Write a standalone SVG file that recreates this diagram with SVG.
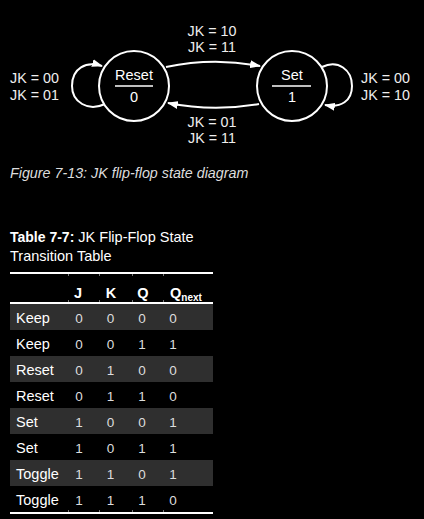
<svg xmlns="http://www.w3.org/2000/svg" width="424" height="519" viewBox="0 0 424 519">
<style>
text{font-family:"Liberation Sans",Arial,sans-serif;}
.lbl{font-size:14.3px;fill:#eeeeee;}
.st{font-size:14.5px;fill:#ffffff;text-anchor:middle;}
.node{fill:#000;stroke:#fff;stroke-width:2;}
.conn{fill:none;stroke:#fff;stroke-width:2;marker-end:url(#ah);}
.cell{font-size:14.5px;fill:#ffffff;}
.num{font-size:13.5px;fill:#dddddd;text-anchor:middle;}
.hd{font-size:14.5px;font-weight:bold;fill:#ffffff;text-anchor:middle;}
.dark{fill:#2f2f2f;}
.rule{stroke:#fff;stroke-width:2;}
.tick{stroke:#777;stroke-width:1;}
</style>
<defs>
<marker id="ah" markerUnits="userSpaceOnUse" markerWidth="11" markerHeight="8" refX="10" refY="4" orient="auto">
<path d="M0,0 L11,4 L0,8 z" fill="#fff"/>
</marker>
</defs>
<rect x="0" y="0" width="424" height="519" fill="#000"/>

<g id="connectors">
<path class="conn" d="M166,67 Q213,57 260,66"/>
<path class="conn" d="M259,104 Q213,112 168,103"/>
<path class="conn" d="M105,104 C88,112 72,102 72,86 C72,68 86,61 102,66"/>
<path class="conn" d="M322,67 C338,59 352,70 352,86 C352,101 341,108 325,105"/>
<g id="edge-labels">
<text class="lbl" x="212" y="36" text-anchor="middle">JK = 10</text>
<text class="lbl" x="212" y="52" text-anchor="middle">JK = 11</text>
<text class="lbl" x="212" y="127" text-anchor="middle">JK = 01</text>
<text class="lbl" x="212" y="143" text-anchor="middle">JK = 11</text>
<text class="lbl" x="10" y="83">JK = 00</text>
<text class="lbl" x="10" y="100">JK = 01</text>
<text class="lbl" x="361" y="83">JK = 00</text>
<text class="lbl" x="361" y="100">JK = 10</text>
</g>
</g>

<g id="reset">
<circle class="node" cx="134" cy="86" r="35"/>
<text class="st" x="134" y="80">Reset</text>
<line x1="115" y1="86" x2="153" y2="86" stroke="#fff" stroke-width="1.5"/>
<text class="st" x="134" y="102">0</text>
</g>
<g id="set">
<circle class="node" cx="292" cy="86" r="35"/>
<text class="st" x="292" y="80">Set</text>
<line x1="272" y1="86" x2="311" y2="86" stroke="#fff" stroke-width="1.5"/>
<text class="st" x="292" y="102">1</text>
</g>

<text x="10" y="178" font-size="14.3" font-style="italic" fill="#dddddd">Figure 7-13: JK flip-flop state diagram</text>

<g id="table">
<text x="10" y="242" font-size="14.5" fill="#fff"><tspan font-weight="bold" font-size="14">Table 7-7:</tspan> JK Flip-Flop State</text>
<text x="10" y="261" font-size="14.5" fill="#fff">Transition Table</text>

<rect class="dark" x="10" y="304" width="203" height="26"/>
<rect class="dark" x="10" y="356" width="203" height="26"/>
<rect class="dark" x="10" y="408" width="203" height="26"/>
<rect class="dark" x="10" y="460" width="203" height="26"/>

<line class="rule" x1="10" y1="273" x2="213" y2="273"/>
<line class="rule" x1="10" y1="303" x2="213" y2="303"/>
<line class="rule" x1="10" y1="513" x2="213" y2="513"/>
<g class="tick">
<line x1="68.5" y1="274" x2="68.5" y2="276"/><line x1="99.5" y1="274" x2="99.5" y2="276"/><line x1="132.5" y1="274" x2="132.5" y2="276"/><line x1="163.5" y1="274" x2="163.5" y2="276"/>
<line x1="68.5" y1="300" x2="68.5" y2="302"/><line x1="99.5" y1="300" x2="99.5" y2="302"/><line x1="132.5" y1="300" x2="132.5" y2="302"/><line x1="163.5" y1="300" x2="163.5" y2="302"/>
<line x1="68.5" y1="510" x2="68.5" y2="512"/><line x1="99.5" y1="510" x2="99.5" y2="512"/><line x1="132.5" y1="510" x2="132.5" y2="512"/><line x1="163.5" y1="510" x2="163.5" y2="512"/>
</g>

<text class="hd" x="78" y="298">J</text>
<text class="hd" x="111" y="298">K</text>
<text class="hd" x="143" y="298">Q</text>
<text x="170" y="298" font-size="14.5" font-weight="bold" fill="#fff">Q<tspan font-size="10" dy="2.5">next</tspan></text>

<g>
<text class="cell" x="16" y="323">Keep</text>
<text class="num" x="79" y="323">0</text><text class="num" x="110.5" y="323">0</text><text class="num" x="142" y="323">0</text><text class="num" x="173" y="323">0</text>
<text class="cell" x="16" y="349">Keep</text>
<text class="num" x="79" y="349">0</text><text class="num" x="110.5" y="349">0</text><text class="num" x="142" y="349">1</text><text class="num" x="173" y="349">1</text>
<text class="cell" x="16" y="375">Reset</text>
<text class="num" x="79" y="375">0</text><text class="num" x="110.5" y="375">1</text><text class="num" x="142" y="375">0</text><text class="num" x="173" y="375">0</text>
<text class="cell" x="16" y="401">Reset</text>
<text class="num" x="79" y="401">0</text><text class="num" x="110.5" y="401">1</text><text class="num" x="142" y="401">1</text><text class="num" x="173" y="401">0</text>
<text class="cell" x="16" y="427">Set</text>
<text class="num" x="79" y="427">1</text><text class="num" x="110.5" y="427">0</text><text class="num" x="142" y="427">0</text><text class="num" x="173" y="427">1</text>
<text class="cell" x="16" y="453">Set</text>
<text class="num" x="79" y="453">1</text><text class="num" x="110.5" y="453">0</text><text class="num" x="142" y="453">1</text><text class="num" x="173" y="453">1</text>
<text class="cell" x="16" y="479">Toggle</text>
<text class="num" x="79" y="479">1</text><text class="num" x="110.5" y="479">1</text><text class="num" x="142" y="479">0</text><text class="num" x="173" y="479">1</text>
<text class="cell" x="16" y="505">Toggle</text>
<text class="num" x="79" y="505">1</text><text class="num" x="110.5" y="505">1</text><text class="num" x="142" y="505">1</text><text class="num" x="173" y="505">0</text>
</g>
</g>
</svg>
